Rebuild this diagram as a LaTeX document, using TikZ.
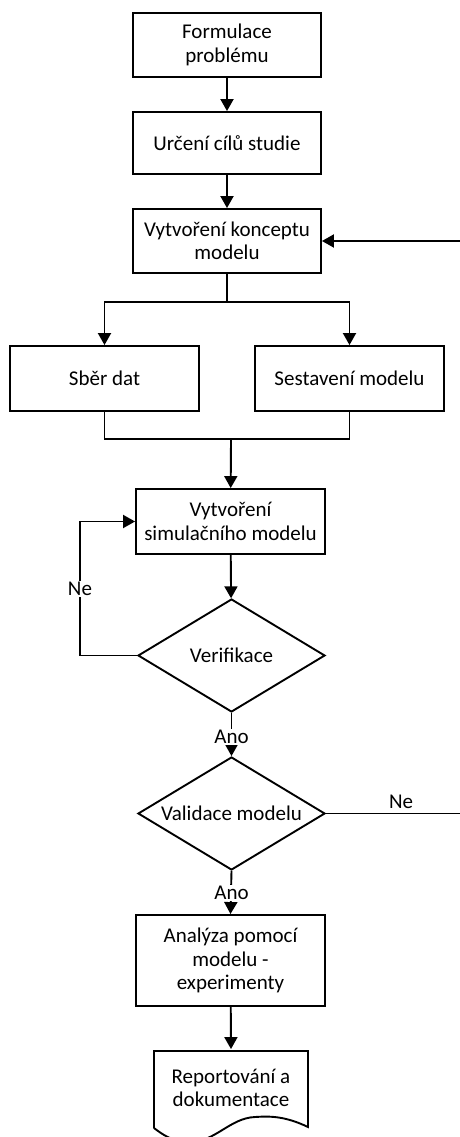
\documentclass[tikz,border=0pt]{standalone}
\usepackage{fontspec}
\setmainfont{Carlito}
\usetikzlibrary{shapes.geometric,arrows.meta}
\begin{document}
\begin{tikzpicture}[x=1pt,y=-1pt,
  font=\fontsize{21}{23.5}\selectfont,
  line width=1.9pt,
  stepbox/.style={draw, rectangle, minimum width=188pt, align=center, inner sep=0pt},
  decision/.style={draw, diamond, aspect=1.65, minimum width=187pt, minimum height=113pt, inner sep=0pt, align=center},
  flow/.style={-{Triangle[length=12pt,width=13pt]}},
  lbl/.style={fill=white, inner sep=1.5pt}]
\useasboundingbox (0,0) rectangle (460,1137);

% process steps
\node[stepbox, minimum height=64pt] (formul) at (227,45) {Formulace\\problému};
\node[stepbox, minimum height=62pt] (cile) at (227,143) {Určení cílů studie};
\node[stepbox, minimum height=64pt] (koncept) at (227,241) {Vytvoření konceptu\\modelu};
\node[stepbox, minimum width=189pt, minimum height=65pt] (sber) at (104.5,378.5) {Sběr dat};
\node[stepbox, minimum width=189pt, minimum height=65pt] (sest) at (349.5,378.5) {Sestavení modelu};
\node[stepbox, minimum width=189pt, minimum height=65pt] (sim) at (230.5,521.5) {Vytvoření\\simulačního modelu};
\node[decision] (verif) at (231.5,655.5) {Verifikace};
\node[decision] (valid) at (231.5,813.5) {Validace modelu};
\node[stepbox, minimum width=189pt, minimum height=91pt] (analyza) at (230.5,960.5) {Analýza pomocí\\modelu -\\experimenty};
\node[minimum width=154pt, minimum height=76pt, inner sep=0pt, align=center] (report) at (231,1088) {Reportování a\\dokumentace};

% document outline with wavy bottom
\draw (154,1128) -- (154,1051) -- (308,1051) -- (308,1127)
  .. controls (285,1116) and (270,1116) .. (255,1117)
  .. controls (230,1118) and (215,1142) .. (190,1142)
  .. controls (172,1142) and (162,1134) .. (154,1128);

% main flow
\draw[flow] (formul) -- (cile);
\draw[flow] (cile) -- (koncept);

\coordinate (split) at (227,302);
\draw (koncept) -- (split);
\draw[flow] (split) -| (sber);
\draw[flow] (split) -| (sest);

\coordinate (merge) at (231,439);
\draw (sber.south) |- (merge);
\draw (sest.south) |- (merge);
\draw[flow] (merge) -- (sim);

\draw[flow] (sim) -- (verif);

% verification loop
\coordinate (loopL) at (80,655.5);
\draw[flow] (verif.west) -- (loopL) |- (sim.west);
\node[lbl] (neL) at (80,589) {Ne};

\draw[flow] (verif.south) -- (valid.north);
\node[lbl] (ano1) at (231.5,737) {Ano};

% validation loop back to the concept
\coordinate (loopR) at (475,813.5);
\draw[flow] (valid.east) -- (loopR) |- (koncept.east);
\node[anchor=south, inner sep=1pt] (neR) at (401,811) {Ne};

\draw[flow] (valid.south) -- (analyza.north);
\node[lbl] (ano2) at (231.5,893) {Ano};
\draw[flow] (analyza) -- (report.north);
\end{tikzpicture}
\end{document}
